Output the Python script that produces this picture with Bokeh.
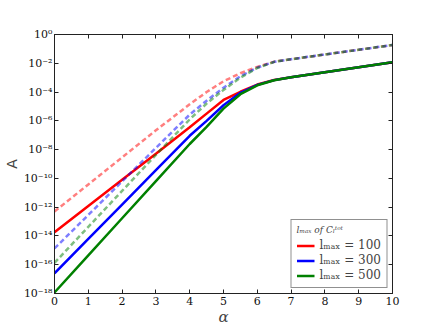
from bokeh.plotting import figure
from bokeh.models import (FixedTicker, CustomJSTickFormatter, LinearAxis, LogAxis,
                          Range1d, Legend, LegendItem)
from bokeh.embed import file_html
from bokeh.resources import INLINE

alpha = [0, 1, 2, 3, 4, 4.5, 5, 5.5, 6, 6.5, 7, 8, 9, 10]

solid_100 = [-13.74, -11.92, -10.10, -8.28, -6.45, -5.50, -4.55, -3.98, -3.48, -3.16, -2.97, -2.62, -2.27, -1.93]
solid_300 = [-16.60, -14.21, -11.82, -9.43, -7.04, -6.00, -4.92, -4.05, -3.50, -3.17, -2.97, -2.62, -2.27, -1.93]
solid_500 = [-17.93, -15.35, -12.77, -10.19, -7.61, -6.42, -5.15, -4.15, -3.53, -3.18, -2.97, -2.62, -2.27, -1.93]

dashed_100 = [-12.30, -10.42, -8.54, -6.66, -4.85, -4.00, -3.25, -2.69, -2.25, -1.89, -1.72, -1.39, -1.06, -0.73]
dashed_300 = [-14.87, -12.54, -10.21, -7.88, -5.57, -4.60, -3.70, -2.90, -2.30, -1.90, -1.72, -1.39, -1.06, -0.73]
dashed_500 = [-15.87, -13.37, -10.87, -8.37, -5.90, -4.80, -3.85, -3.00, -2.33, -1.90, -1.72, -1.39, -1.06, -0.73]

series_labels = ["l\u2098\u2090\u2093 = 100", "l\u2098\u2090\u2093 = 300", "l\u2098\u2090\u2093 = 500"]
series_colors = ["#ff0000", "#0000ff", "#008000"]
legend_title = "l\u2098\u2090\u2093 of C\u2097\u1d57\u1d52\u1d57"

x_ticks = list(range(0, 11))
y_exponents = list(range(-18, 1, 2))

# ---- figure ----
p = figure(frame_width=338, frame_height=259, output_backend="svg", toolbar_location=None,
           y_axis_type="log", x_range=Range1d(0, 10), y_range=Range1d(1e-18, 1e0),
           min_border_left=44, min_border_right=30, min_border_top=34, min_border_bottom=26)
p.grid.visible = False
p.background_fill_color = "white"
p.border_fill_color = "white"
p.outline_line_color = "#222222"
p.outline_line_width = 1

def to_A(vals):
    return [10 ** v for v in vals]

renderers = []
for vals, col in zip([solid_100, solid_300, solid_500], series_colors):
    r = p.line(alpha, to_A(vals), line_color=col, line_width=2.5)
    renderers.append(r)
for vals, col in zip([dashed_100, dashed_300, dashed_500], series_colors):
    p.line(alpha, to_A(vals), line_color=col, line_width=2.5, line_alpha=0.5, line_dash="5 3")

yticks = [10.0 ** e for e in y_exponents]
sup_fmt = CustomJSTickFormatter(code="""
const sup = {'-':'\u207b','0':'\u2070','1':'\u00b9','2':'\u00b2','3':'\u00b3','4':'\u2074',
             '5':'\u2075','6':'\u2076','7':'\u2077','8':'\u2078','9':'\u2079'};
const e = Math.round(Math.log10(tick));
return '10' + String(e).split('').map(c => sup[c]).join('');
""")

serif = "DejaVu Serif"

xa = p.xaxis[0]
xa.ticker = FixedTicker(ticks=x_ticks, minor_ticks=[])
xa.axis_label = "\u03b1"
xa.axis_label_text_font = serif
xa.axis_label_text_font_style = "italic"
xa.axis_label_text_font_size = "15px"
xa.axis_label_standoff = 0
xa.major_label_text_font = serif
xa.major_label_text_font_size = "11px"
xa.major_label_standoff = 3

ya = p.yaxis[0]
ya.ticker = FixedTicker(ticks=yticks, minor_ticks=[])
ya.formatter = sup_fmt
ya.axis_label = "A"
ya.axis_label_text_font = "DejaVu Sans"
ya.axis_label_text_font_style = "normal"
ya.axis_label_text_font_size = "14px"
ya.axis_label_standoff = 1
ya.major_label_text_font = serif
ya.major_label_text_font_size = "11px"
ya.major_label_standoff = 2

for ax in (xa, ya):
    ax.major_tick_in = 4
    ax.major_tick_out = 0
    ax.minor_tick_in = 0
    ax.minor_tick_out = 0
    ax.axis_line_color = "#222222"
    ax.major_tick_line_color = "#222222"
    ax.major_label_text_color = "#111111"

blank_fmt = CustomJSTickFormatter(code="return '';")
top = LinearAxis(ticker=FixedTicker(ticks=x_ticks, minor_ticks=[]), formatter=blank_fmt,
                 major_label_standoff=0,
                 major_tick_in=4, major_tick_out=0, axis_line_color="#222222",
                 major_tick_line_color="#222222")
right = LogAxis(ticker=FixedTicker(ticks=yticks, minor_ticks=[]), formatter=blank_fmt,
                major_label_standoff=0,
                major_tick_in=4, major_tick_out=0, axis_line_color="#222222",
                major_tick_line_color="#222222")
p.add_layout(top, "above")
p.add_layout(right, "right")

legend = Legend(items=[LegendItem(label=l, renderers=[r]) for l, r in zip(series_labels, renderers)],
                location="bottom_right", title=legend_title)
legend.title_text_font = serif
legend.title_text_font_size = "9px"
legend.title_text_font_style = "italic"
legend.title_standoff = 3
legend.label_text_font = serif
legend.label_text_font_size = "12px"
legend.label_height = 13
legend.glyph_height = 13
legend.glyph_width = 18
legend.spacing = 1
legend.padding = 5
legend.margin = 5
legend.border_line_color = "#222222"
legend.border_line_width = 1
legend.background_fill_alpha = 1
p.add_layout(legend)

open("out.html", "w").write(file_html(p, INLINE))
